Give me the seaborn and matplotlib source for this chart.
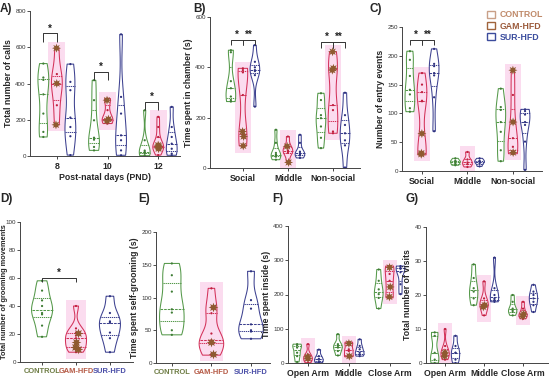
import numpy as np
import pandas as pd
import matplotlib
matplotlib.use("Agg")
import matplotlib.pyplot as plt
import seaborn as sns
from matplotlib.patches import Rectangle, Patch

sns.set_theme(style="ticks")
plt.rcParams['font.family'] = ['Liberation Sans', 'DejaVu Sans']

GROUPS = ["CONTROL", "GAM-HFD", "SUR-HFD"]
LINE_COLORS = ["#55994a", "#d3325a", "#3d4190"]
DOT_COLORS = ["#3f7d35", "#c0203f", "#2e3280"]
STAR_COLOR = "#8e5a30"
PINK = "#fbdcef"
LEGEND_BOX = ["#c9a088", "#a0643c", "#3c4c9c"]
LEGEND_TEXT = ["#c08a6a", "#9b5a3a", "#3b4d9e"]
GROUP_TICK_COLORS = ["#6f7d45", "#b55a45", "#4b4fa8"]

# ---- Panel A: total number of calls by PND ----
A_CATS = ["8", "10", "12"]
A_CONTROL = [[105, 133, 234, 340, 420, 433, 510], [31, 50, 90, 101, 197, 308, 418], [2, 13, 18, 22, 30, 87, 252]]
A_GAM = [[172, 280, 395, 400, 452, 595], [179, 194, 203, 206, 253, 308, 317], [5, 40, 48, 50, 55, 60, 105, 160, 216]]
A_SUR = [[5, 109, 160, 212, 363, 409, 507], [4, 31, 87, 114, 234, 326, 671], [4, 13, 40, 68, 105, 160, 271]]
A_STARS = [[595, 400, 172], [308, 203, 194], [40, 48, 55, 60]]
A_SIG_Y = [676, 465, 299]

# ---- Panel B: time spent in chamber ----
B_CATS = ["Social", "Middle", "Non-social"]
B_CONTROL = [[264, 270, 284, 317, 345, 460, 468], [33, 45, 50, 53, 60, 100, 152], [79, 120, 165, 198, 210, 270, 297]]
B_GAM = [[88, 125, 145, 290, 380, 389, 396], [22, 60, 66, 70, 86, 125], [138, 145, 230, 250, 389, 396, 462]]
B_SUR = [[244, 369, 385, 389, 400, 422, 488], [40, 50, 55, 59, 65, 100, 132], [2, 90, 110, 138, 171, 210, 299]]
B_STARS = [[88, 125, 145], [86, 22], [462, 396, 389]]
B_SIG_Y = [510, None, 500]

# ---- Panel C: number of entry events ----
C_CATS = ["Social", "Middle", "Non-social"]
C_CONTROL = [[103, 109, 133, 141, 165, 193, 208], [10, 13, 16, 18, 22], [17, 36, 68, 85, 106, 111, 143]]
C_GAM = [[28, 30, 31, 65, 121, 122, 137, 150, 170], [7, 12, 15, 20, 33], [30, 32, 42, 57, 85, 132, 175]]
C_SUR = [[69, 128, 166, 170, 182, 186, 212], [8, 13, 16, 18, 22], [2, 51, 80, 85, 98, 104, 107]]
C_STARS = [[29, 31, 65], [], [175, 85, 32]]
C_SIG_Y = [228, None, None]

# ---- Panel D: total number of grooming movements ----
D_CONTROL = [18, 26, 34, 35, 40, 44, 51, 58]
D_GAM = [7, 9, 11, 14, 17, 19, 21, 24, 40]
D_SUR = [7, 17, 21, 28, 29, 35, 47]
D_STARS = [9, 11, 14, 21]
D_SIG_Y = 60

# ---- Panel E: time spent self-grooming ----
E_CONTROL = [43, 50, 77, 82, 109, 134, 152]
E_GAM = [12, 14, 30, 32, 35, 45, 76, 85, 114]
E_SUR = [37, 48, 50, 59, 83, 96, 140]
E_STARS = [85, 32, 14]

# ---- Panel F: time spent inside (EPM) ----
F_CATS = ["Open Arm", "Middle", "Close Arm"]
F_CONTROL = [[3, 20, 30, 45, 52, 55], [22, 35, 45, 50, 55, 84], [159, 190, 201, 215, 240, 273]]
F_GAM = [[1, 8, 13, 18, 25, 55], [18, 20, 35, 40, 57, 61], [190, 193, 222, 240, 260, 279, 283]]
F_SUR = [[1, 5, 12, 20, 39], [20, 25, 30, 40, 50, 69], [201, 230, 265, 275, 280, 283]]
F_STARS = [[18, 13], [57, 20], [279, 222, 193]]

# ---- Panel G: total number of visits ----
G_CATS = ["Open Arm", "Middle", "Close Arm"]
G_CONTROL = [[0, 1, 3, 8, 9], [17, 19, 21, 22, 25, 29], [14, 15, 15.5, 16, 18, 20]]
G_GAM = [[1, 2, 2.5, 3, 3.5, 5, 10], [14, 16.5, 17, 17.5, 19, 24], [13, 13.8, 14.2, 14.4, 16, 18]]
G_SUR = [[0, 1, 3, 3, 5, 8], [18, 18.5, 19, 20, 22, 31], [15, 17, 18, 19, 20, 21, 23]]
G_STARS = [[3, 2], [17, 16.5], [14.4, 13.8]]

np.random.seed(3)

W, H = 550, 385
fig = plt.figure(figsize=(5.5, 3.85), dpi=100)


def add_ax(left, right, top, bottom):
    return fig.add_axes([left / W, 1 - bottom / H, (right - left) / W, (bottom - top) / H])


def long_df(cats, series_list):
    rows = []
    for g, series in zip(GROUPS, series_list):
        for c, vals in zip(cats, series):
            for v in vals:
                rows.append((c, g, v))
    return pd.DataFrame(rows, columns=["cat", "group", "value"])


def style_ax(ax, ylim, yticks, xlim, ylabel, ylabel_size=6.3):
    ax.set_ylim(*ylim)
    ax.set_yticks(yticks)
    ax.set_xlim(*xlim)
    for s in ["top", "right"]:
        ax.spines[s].set_visible(False)
    for s in ["left", "bottom"]:
        ax.spines[s].set_color("#444444")
        ax.spines[s].set_linewidth(0.7)
    ax.tick_params(axis="y", labelsize=4.5, length=2, width=0.6, pad=1, colors="#333333")
    ax.tick_params(axis="x", length=2, width=0.6, pad=2)
    ax.set_ylabel(ylabel, fontsize=ylabel_size, fontweight="bold", labelpad=2)
    ax.set_xlabel("")


def draw_cat_panel(ax, cats, ctrl, gam, sur, stars, ymax):
    df = long_df(cats, [ctrl, gam, sur])
    pad = 0.045 * ymax
    for i, vals in enumerate(gam):
        ax.add_patch(Rectangle((i - 0.17, min(vals) - pad), 0.34, max(vals) - min(vals) + 2 * pad,
                               facecolor=PINK, edgecolor="none", zorder=0))
    sns.violinplot(data=df, x="cat", y="value", hue="group", order=cats, hue_order=GROUPS,
                   palette=LINE_COLORS, fill=False, cut=0, density_norm="width", inner="quart",
                   linewidth=0.75, width=0.8, gap=0.2, bw_adjust=0.7, legend=False, ax=ax)
    sns.stripplot(data=df, x="cat", y="value", hue="group", order=cats, hue_order=GROUPS,
                  palette=DOT_COLORS, dodge=True, jitter=False, size=1.6, legend=False, ax=ax)
    srows = [(c, "GAM-HFD", v) for c, vals in zip(cats, stars) for v in vals]
    sdf = pd.DataFrame(srows, columns=["cat", "group", "value"])
    sns.stripplot(data=sdf, x="cat", y="value", hue="group", order=cats, hue_order=GROUPS,
                  palette=[STAR_COLOR] * 3, dodge=True, jitter=0.06, size=6.5, marker=(8, 1, 0),
                  linewidth=0, legend=False, ax=ax, zorder=5)
    ax.tick_params(axis="x", labelsize=6.3)
    for lab in ax.get_xticklabels():
        lab.set_fontweight("bold")


def draw_group_panel(ax, ctrl, gam, sur, stars, ymax):
    rows = [(g, v) for g, vals in zip(GROUPS, [ctrl, gam, sur]) for v in vals]
    df = pd.DataFrame(rows, columns=["group", "value"])
    pad = 0.045 * ymax
    ax.add_patch(Rectangle((1 - 0.3, min(gam) - pad), 0.6, max(gam) - min(gam) + 2 * pad,
                           facecolor=PINK, edgecolor="none", zorder=0))
    sns.violinplot(data=df, x="group", y="value", hue="group", order=GROUPS, hue_order=GROUPS,
                   palette=LINE_COLORS, fill=False, cut=0, density_norm="width", inner="quart",
                   linewidth=0.75, width=0.62, dodge=False, bw_adjust=0.7, legend=False, ax=ax)
    sns.stripplot(data=df, x="group", y="value", hue="group", order=GROUPS, hue_order=GROUPS,
                  palette=DOT_COLORS, dodge=False, jitter=False, size=1.6, legend=False, ax=ax)
    sdf = pd.DataFrame([("GAM-HFD", v) for v in stars], columns=["group", "value"])
    sns.stripplot(data=sdf, x="group", y="value", order=GROUPS, color=STAR_COLOR,
                  jitter=0.08, size=7, marker=(8, 1, 0), linewidth=0, ax=ax, zorder=5)


def color_group_ticks(ax):
    ax.tick_params(axis="x", labelsize=5.4)
    for lab, col in zip(ax.get_xticklabels(), GROUP_TICK_COLORS):
        lab.set_fontweight("bold")
        lab.set_color(col)


def bracket(ax, xs, y, drop, labels, label_xs):
    ax.plot([xs[0], xs[0], xs[-1], xs[-1]], [y - drop, y, y, y - drop], color="#333333", lw=0.7,
            solid_capstyle="butt", zorder=6)
    for xm in xs[1:-1]:
        ax.plot([xm, xm], [y, y - drop], color="#333333", lw=0.7, zorder=6)
    for t, lx in zip(labels, label_xs):
        ax.text(lx, y, t, ha="center", va="bottom", fontsize=7, fontweight="bold", color="#222222")


OFF = 0.8 / 3

# A
axA = add_ax(30, 180, 11, 156)
draw_cat_panel(axA, A_CATS, A_CONTROL, A_GAM, A_SUR, A_STARS, 800)
style_ax(axA, (0, 800), [0, 200, 400, 600, 800], (-0.53, 2.43), "Total number of calls")
axA.set_xlabel("Post-natal days (PND)", fontsize=6.3, fontweight="bold", labelpad=2)
for i, y in enumerate(A_SIG_Y):
    bracket(axA, [i - OFF, i], y, 45, ["*"], [i - OFF / 2])

# B
axB = add_ax(210, 360, 17, 168)
draw_cat_panel(axB, B_CATS, B_CONTROL, B_GAM, B_SUR, B_STARS, 600)
style_ax(axB, (0, 600), [0, 200, 400, 600], (-0.73, 2.6), "Time spent in chamber (s)")
for i, y in enumerate(B_SIG_Y):
    if y is not None:
        bracket(axB, [i - OFF, i, i + OFF], y, 22, ["*", "**"], [i - OFF / 2, i + OFF / 2])

# C
axC = add_ax(402, 542, 27, 171)
draw_cat_panel(axC, C_CATS, C_CONTROL, C_GAM, C_SUR, C_STARS, 250)
style_ax(axC, (0, 250), [0, 50, 100, 150, 200, 250], (-0.44, 2.64), "Number of entry events")
for i, y in enumerate(C_SIG_Y):
    if y is not None:
        bracket(axC, [i - OFF, i, i + OFF], y, 9, ["*", "**"], [i - OFF / 2, i + OFF / 2])
handles = [Patch(facecolor="white", edgecolor=c, linewidth=1.0) for c in LEGEND_BOX]
fig.legend(handles, GROUPS, loc="upper left", bbox_to_anchor=(483 / W, 1 - 6 / H), frameon=False,
           prop={"size": 6.3, "weight": "bold"}, labelcolor=LEGEND_TEXT, handlelength=0.9,
           handleheight=0.9, labelspacing=0.25, handletextpad=0.5, borderpad=0)

# D
axD = add_ax(20, 133, 222, 362)
draw_group_panel(axD, D_CONTROL, D_GAM, D_SUR, D_STARS, 100)
style_ax(axD, (0, 100), [0, 20, 40, 60, 80, 100], (-0.65, 2.68), "Total number of grooming movements",
         ylabel_size=5.3)
axD.yaxis.set_label_coords(-0.105, 0.5)
color_group_ticks(axD)
bracket(axD, [0, 1], D_SIG_Y, 3, ["*"], [0.5])

# E
axE = add_ax(156, 270, 232, 363)
draw_group_panel(axE, E_CONTROL, E_GAM, E_SUR, E_STARS, 200)
style_ax(axE, (0, 200), [0, 50, 100, 150, 200], (-0.4, 2.48), "Time spent self-grooming (s)")
color_group_ticks(axE)

# F
axF = add_ax(288, 410, 226, 363)
draw_cat_panel(axF, F_CATS, F_CONTROL, F_GAM, F_SUR, F_STARS, 400)
style_ax(axF, (0, 400), [0, 100, 200, 300, 400], (-0.49, 2.5), "Time spent inside (s)")

# G
axG = add_ax(426, 548, 227, 363)
draw_cat_panel(axG, G_CATS, G_CONTROL, G_GAM, G_SUR, G_STARS, 40)
style_ax(axG, (0, 40), [0, 10, 20, 30, 40], (-0.49, 2.64), "Total number of visits")

# Panel letters
for letter, (px, py) in zip("ABCDEFG", [(0, 3), (193, 3), (370, 3), (0, 193), (138, 193), (272, 193), (405, 193)]):
    fig.text(px / W, 1 - py / H, letter + ")", fontsize=8.5, fontweight="bold", va="top", ha="left")

fig.savefig("out.png", dpi=100)
